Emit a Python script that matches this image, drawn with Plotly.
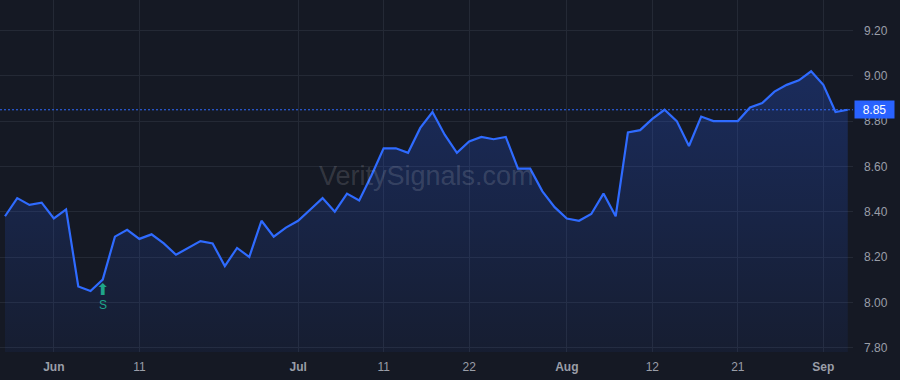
import plotly.graph_objects as go

dates = [
    "2025-05-27", "2025-05-28", "2025-05-29", "2025-05-30",
    "2025-06-02", "2025-06-03", "2025-06-04", "2025-06-05", "2025-06-06",
    "2025-06-09", "2025-06-10", "2025-06-11", "2025-06-12", "2025-06-13",
    "2025-06-16", "2025-06-17", "2025-06-18", "2025-06-20",
    "2025-06-23", "2025-06-24", "2025-06-25", "2025-06-26", "2025-06-27",
    "2025-06-30", "2025-07-01", "2025-07-02", "2025-07-03",
    "2025-07-07", "2025-07-08", "2025-07-09", "2025-07-10", "2025-07-11",
    "2025-07-14", "2025-07-15", "2025-07-16", "2025-07-17", "2025-07-18",
    "2025-07-21", "2025-07-22", "2025-07-23", "2025-07-24", "2025-07-25",
    "2025-07-28", "2025-07-29", "2025-07-30", "2025-07-31", "2025-08-01",
    "2025-08-04", "2025-08-05", "2025-08-06", "2025-08-07", "2025-08-08",
    "2025-08-11", "2025-08-12", "2025-08-13", "2025-08-14", "2025-08-15",
    "2025-08-18", "2025-08-19", "2025-08-20", "2025-08-21", "2025-08-22",
    "2025-08-25", "2025-08-26", "2025-08-27", "2025-08-28", "2025-08-29",
    "2025-09-02", "2025-09-03", "2025-09-04",
]

prices = [
    8.38, 8.46, 8.43, 8.44,
    8.37, 8.41, 8.07, 8.05, 8.10,
    8.29, 8.32, 8.28, 8.30, 8.26,
    8.21, 8.24, 8.27, 8.26,
    8.16, 8.24, 8.20, 8.36, 8.29,
    8.33, 8.36, 8.41, 8.46,
    8.40, 8.48, 8.45, 8.56, 8.68,
    8.68, 8.66, 8.77, 8.84, 8.74,
    8.66, 8.71, 8.73, 8.72, 8.73,
    8.59, 8.59, 8.49, 8.42, 8.37,
    8.36, 8.39, 8.48, 8.38, 8.75,
    8.76, 8.81, 8.85, 8.80, 8.69,
    8.82, 8.80, 8.80, 8.80, 8.86,
    8.88, 8.93, 8.96, 8.98, 9.02,
    8.96, 8.84, 8.85,
]

tick_dates = ["2025-06-02", "2025-06-11", "2025-07-01", "2025-07-11", "2025-07-22",
              "2025-08-01", "2025-08-12", "2025-08-21", "2025-09-02"]
tick_labels = ["<b>Jun</b>", "11", "<b>Jul</b>", "11", "22", "<b>Aug</b>", "12", "21", "<b>Sep</b>"]

y_ticks = [7.80, 8.00, 8.20, 8.40, 8.60, 8.80, 9.00, 9.20]

signal_date = "2025-06-06"
signal_label = "S"
signal_arrow = "\u2b06"
last_price = prices[-1]
watermark = "VeritySignals.com"

BG = "#151924"
GRID = "#242935"
LINE = "#2f6bff"
TXT = "#9a9ea8"
SIG = "#1fa58a"
FONT = "Liberation Sans, Arial, sans-serif"

fig = go.Figure()

fig.add_trace(go.Scatter(
    x=dates, y=prices, mode="lines",
    line=dict(color=LINE, width=2.2),
    fill="tozeroy",
    fillgradient=dict(
        type="vertical",
        start=7.78, stop=9.05,
        colorscale=[[0, "rgba(41,98,255,0.06)"], [1, "rgba(41,98,255,0.26)"]],
    ),
    hoverinfo="skip",
    showlegend=False,
))

# last price dotted line
fig.add_hline(y=last_price, line=dict(color=LINE, width=1, dash="2px,2px"))

sig_idx = dates.index(signal_date)
annotations = [
    dict(x=signal_date, y=prices[sig_idx], xref="x", yref="y",
         text=signal_arrow, showarrow=False, yshift=-10,
         font=dict(color=SIG, size=16, family="DejaVu Sans")),
    dict(x=signal_date, y=prices[sig_idx], xref="x", yref="y",
         text=signal_label, showarrow=False, yshift=-25,
         font=dict(color=SIG, size=12, family=FONT)),
    dict(x=0.5, y=0.5, xref="paper", yref="paper", text=watermark, showarrow=False,
         font=dict(color="rgba(255,255,255,0.14)", size=27, family=FONT)),
    dict(x=1, y=last_price, xref="paper", yref="y", xanchor="left", yanchor="middle",
         xshift=1, text=f"{last_price:.2f}", showarrow=False, bgcolor="#2962ff",
         width=37, height=15, borderpad=1,
         font=dict(color="#ffffff", size=12, family=FONT)),
]

fig.update_layout(
    width=900, height=380,
    margin=dict(l=0, r=47, t=0, b=28),
    paper_bgcolor=BG, plot_bgcolor=BG,
    font=dict(family=FONT, color=TXT, size=12),
    annotations=annotations,
    xaxis=dict(
        type="category", range=[-0.41, 69.43],
        tickvals=tick_dates, ticktext=tick_labels,
        showgrid=True, gridcolor=GRID, gridwidth=1,
        zeroline=False, showline=False, ticks="", ticklabelstandoff=6,
        tickfont=dict(color=TXT, size=12, family=FONT),
    ),
    yaxis=dict(
        side="right", range=[7.7806, 9.3347],
        tickvals=y_ticks, tickformat=".2f",
        showgrid=True, gridcolor=GRID, gridwidth=1,
        zeroline=False, showline=False, ticks="", ticklabelstandoff=10,
        tickfont=dict(color=TXT, size=12, family=FONT),
    ),
    hovermode=False,
)

fig.write_html("out.html")
